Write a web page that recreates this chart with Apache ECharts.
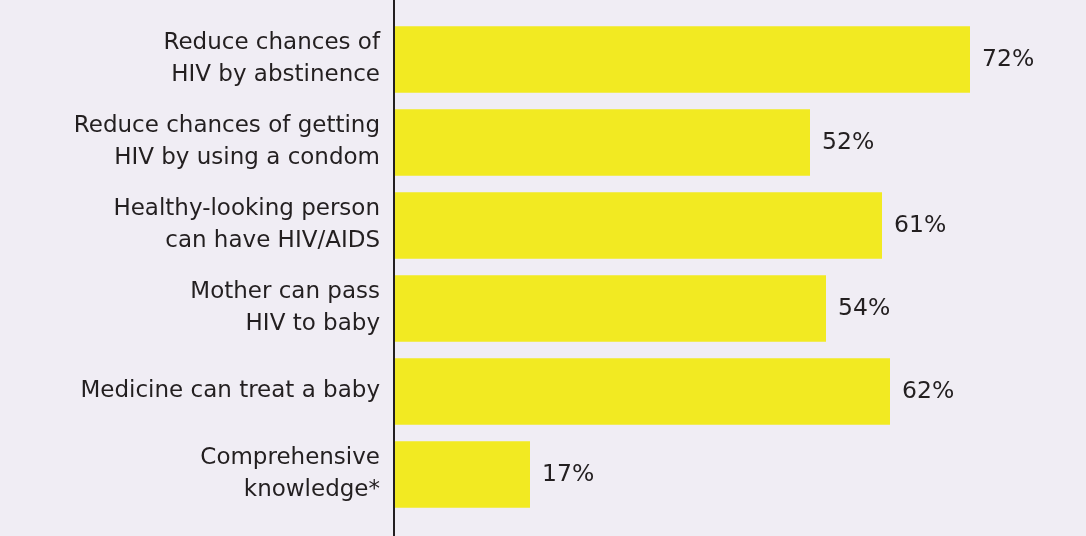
<!DOCTYPE html>
<html>
<head>
<meta charset="utf-8">
<script src="https://cdn.jsdelivr.net/npm/echarts@6/dist/echarts.min.js"></script>
<style>
html,body{margin:0;padding:0;background:#f0edf4;}
#chart{width:1086px;height:536px;}
</style>
</head>
<body>
<div id="chart"></div>
<script>
const categories = [
  "Reduce chances of\nHIV by abstinence",
  "Reduce chances of getting\nHIV by using a condom",
  "Healthy-looking person\ncan have HIV/AIDS",
  "Mother can pass\nHIV to baby",
  "Medicine can treat a baby",
  "Comprehensive\nknowledge*"
];
const values = [72, 52, 61, 54, 62, 17];

const chart = echarts.init(document.getElementById('chart'));
chart.setOption({
  backgroundColor: '#f0edf4',
  animation: false,
  grid: { left: 394, right: 52, top: 18, bottom: 20 },
  xAxis: {
    type: 'value', min: 0, max: 80,
    show: false
  },
  yAxis: {
    type: 'category', data: categories, inverse: true,
    axisLine: { show: false },
    axisTick: { show: false },
    axisLabel: {
      margin: 14, color: '#231f20', fontFamily: 'DejaVu Sans', fontSize: 23,
      lineHeight: 32, align: 'right'
    }
  },
  series: [{
    type: 'bar', data: values, barCategoryGap: '20%',
    itemStyle: { color: '#f2ea22' },
    label: {
      show: true, position: 'right', distance: 12, formatter: '{c}%',
      color: '#231f20', fontFamily: 'DejaVu Sans', fontSize: 23.5
    }
  }],
  graphic: [{
    type: 'line', z: 100,
    shape: { x1: 394, y1: 0, x2: 394, y2: 536 },
    style: { stroke: '#231f20', lineWidth: 2 }
  }]
});
</script>
</body>
</html>
